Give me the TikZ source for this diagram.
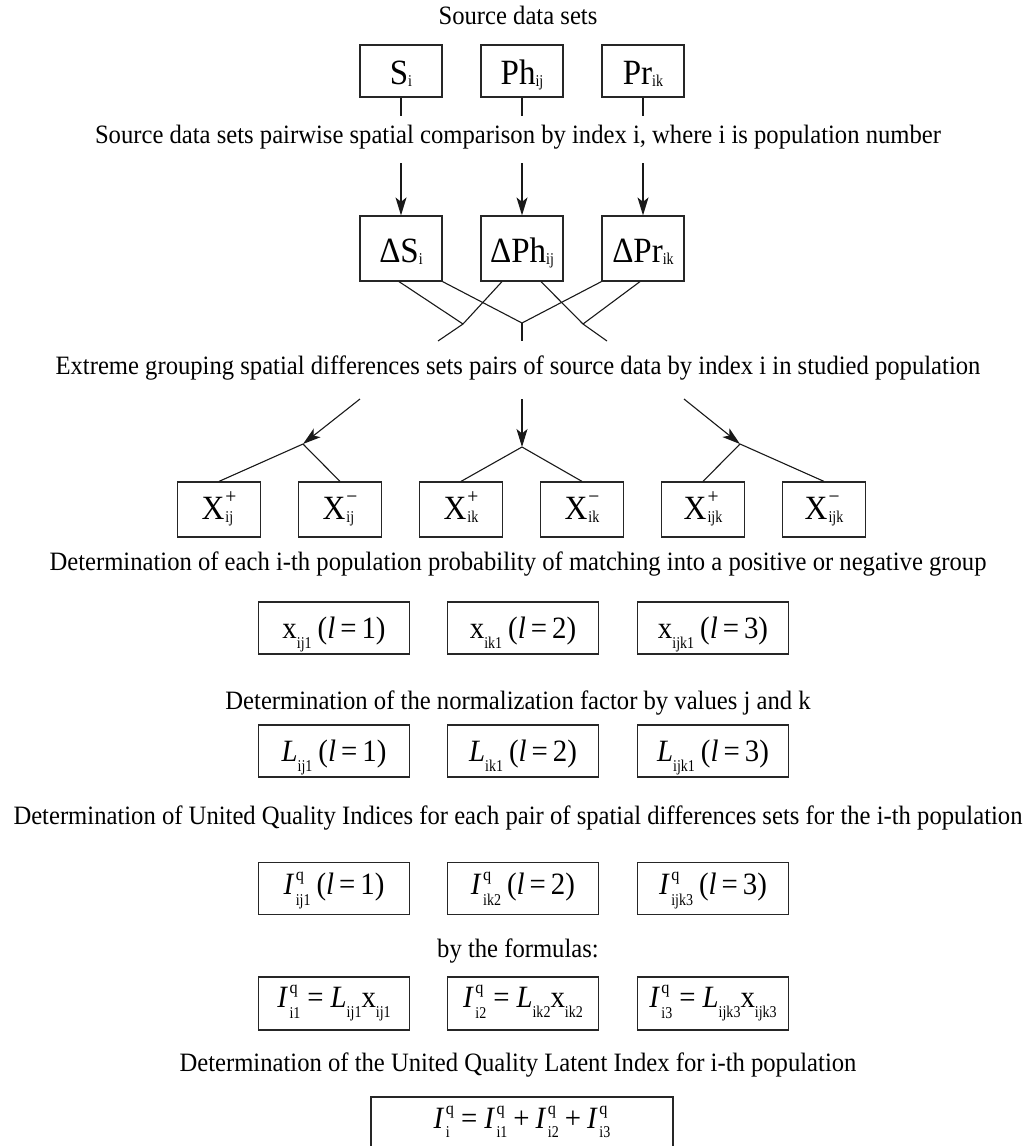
\documentclass[tikz,border=0pt]{standalone}
\usepackage{fontspec}
\setmainfont[FakeStretch=0.93]{Liberation Serif}
\newfontfamily\subfam[FakeStretch=0.85]{Liberation Serif}
\usetikzlibrary{arrows.meta,calc}
\newcommand\capsz{\fontsize{26.5}{30}\selectfont}
\newcommand\bigsz{\fontsize{35.5}{38}\selectfont}
\newcommand\xsz{\fontsize{34}{38}\selectfont}
\newcommand\midsz{\fontsize{31}{36}\selectfont}
\newcommand\subfnt{\subfam\fontsize{16.5}{17}\selectfont}
\newcommand\qfnt{\fontsize{17.5}{18}\selectfont}
\newcommand\pmfnt{\fontsize{21}{21}\selectfont}
% subscript: #1 lowering, #2 text
\newcommand\sbs[2][2pt]{\lower#1\hbox{\subfnt #2}}
% stacked sup/sub: #1 sup font, #2 raise, #3 lower, #4 sup, #5 sub
\newcommand\stk[5]{\begingroup\setbox0\hbox{#1#4}\setbox2\hbox{\subfnt #5}%
  \ifdim\wd0>\wd2 \dimen0=\wd0 \else\dimen0=\wd2 \fi
  \hbox to\dimen0{\rlap{\raise#2\box0}\lower#3\box2\hfil}\endgroup}
\newcommand\Xpm[2]{X\kern1pt\stk{\pmfnt}{16pt}{3pt}{#1}{#2}}
\newcommand\Iq[1]{\textit{I}\kern1.5pt\stk{\qfnt}{14pt}{11pt}{q}{#1}}
\newcommand\Iqf[1]{\textit{I}\kern1.5pt\stk{\qfnt}{14pt}{9pt}{q}{#1}}
\newcommand\Lsub[1]{\textit{L}\sbs[10pt]{#1}}
\newcommand\xsub[1]{x\sbs[10pt]{#1}}
\newcommand\lval[1]{\kern6pt(\textit{l}\kern5pt=\kern5pt#1)}
\newcommand\eqs{\kern7pt=\kern7pt}
\newcommand\pls{\kern6pt+\kern6pt}
\begin{document}
\begin{tikzpicture}[x=1pt,y=-1pt,
  bx/.style={draw=black!85,line width=1.2pt,inner sep=0pt,minimum height=52pt,font=\bigsz,text depth=4pt},
  captxt/.style={anchor=base,font=\capsz,inner sep=0pt},
  ln/.style={line width=1.1pt,black!90},
  arr/.style={line width=1.1pt,black!90,-{Stealth[length=18pt,width=11pt,inset=4.5pt]}}]
\useasboundingbox[fill=white] (0,0) rectangle (1036,1146);

% row 1
\node[captxt] (c1) at (518,24) {Source data sets};
\node[bx,minimum width=82pt,text height=31pt] (S) at (401,71) {S\sbs{i}};
\node[bx,minimum width=82pt,text height=31pt] (Ph) at (522,71) {Ph\sbs{ij}};
\node[bx,minimum width=82pt,text height=31pt] (Pr) at (643,71) {Pr\sbs{ik}};
\coordinate (t1) at (401,116);
\coordinate (t2) at (522,116);
\coordinate (t3) at (643,116);
\draw[ln] (S.south) -- (t1);
\draw[ln] (Ph.south) -- (t2);
\draw[ln] (Pr.south) -- (t3);

\node[captxt] (c2) at (518,143) {Source data sets pairwise spatial comparison by index i, where i is population number};

% row 2
\node[bx,minimum width=82pt,minimum height=65pt,text height=31pt] (dS) at (401,248.5) {ΔS\sbs{i}};
\node[bx,minimum width=82pt,minimum height=65pt,text height=31pt] (dPh) at (522,248.5) {ΔPh\sbs{ij}};
\node[bx,minimum width=82pt,minimum height=65pt,text height=31pt] (dPr) at (643,248.5) {ΔPr\sbs{ik}};
\coordinate (u1) at (401,163);
\coordinate (u2) at (522,163);
\coordinate (u3) at (643,163);
\draw[arr] (u1) -- (dS.north);
\draw[arr] (u2) -- (dPh.north);
\draw[arr] (u3) -- (dPr.north);

\coordinate (j1) at (463,324);
\coordinate (j2) at (522,323);
\coordinate (j3) at (583,324);
\coordinate (e1) at (438,341);
\coordinate (e2) at (522,341);
\coordinate (e3) at (607,341);
\draw[ln] ([xshift=-2pt]dS.south) -- (j1);
\draw[ln] (dS.south east) -- (j2);
\draw[ln] ([xshift=-20pt]dPh.south) -- (j1);
\draw[ln] ([xshift=19pt]dPh.south) -- (j3);
\draw[ln] (dPr.south west) -- (j2);
\draw[ln] ([xshift=-3pt]dPr.south) -- (j3);
\draw[ln] (j1) -- (e1);
\draw[ln] (j2) -- (e2);
\draw[ln] (j3) -- (e3);

\node[captxt] (c3) at (518,374) {Extreme grouping spatial differences sets pairs of source data by index i in studied population};

% row 3
\coordinate (s1) at (360,399);
\coordinate (s2) at (522,399);
\coordinate (s3) at (684,399);
\coordinate (a1) at (303,444);
\coordinate (a2) at (522,447);
\coordinate (a3) at (740,444);
\draw[arr] (s1) -- (a1);
\draw[arr] (s2) -- (a2);
\draw[arr] (s3) -- (a3);
\tikzset{xb/.style={bx,font=\xsz,minimum width=83pt,minimum height=55pt,text height=24pt}}
\node[xb] (Xp1) at (219,509.5) {\Xpm{+}{ij}};
\node[xb] (Xm1) at (340,509.5) {\Xpm{−}{ij}};
\node[xb] (Xp2) at (461,509.5) {\Xpm{+}{ik}};
\node[xb] (Xm2) at (582,509.5) {\Xpm{−}{ik}};
\node[xb] (Xp3) at (703,509.5) {\Xpm{+}{ijk}};
\node[xb] (Xm3) at (824,509.5) {\Xpm{−}{ijk}};
\draw[ln] (a1) -- (Xp1.north);
\draw[ln] (a1) -- (Xm1.north);
\draw[ln] (a2) -- (Xp2.north);
\draw[ln] (a2) -- (Xm2.north);
\draw[ln] (a3) -- (Xp3.north);
\draw[ln] (a3) -- (Xm3.north);

\node[captxt] (c4) at (518,570) {Determination of each i-th population probability of matching into a positive or negative group};

% row 4
\tikzset{wb/.style={bx,font=\midsz,minimum width=151pt,minimum height=52pt}}
\node[wb,text height=24pt] (x1) at (334,628) {\xsub{ij1}\lval{1}};
\node[wb,text height=24pt] (x2) at (523,628) {\xsub{ik1}\lval{2}};
\node[wb,text height=24pt] (x3) at (713,628) {\xsub{ijk1}\lval{3}};

\node[captxt] (c5) at (518,709) {Determination of the normalization factor by values j and k};

% row 5
\node[wb,text height=24pt] (L1) at (334,751) {\Lsub{ij1}\lval{1}};
\node[wb,text height=24pt] (L2) at (523,751) {\Lsub{ik1}\lval{2}};
\node[wb,text height=24pt] (L3) at (713,751) {\Lsub{ijk1}\lval{3}};

\node[captxt] (c6) at (518,824) {Determination of United Quality Indices for each pair of spatial differences sets for the i-th population};

% row 6
\node[wb,text height=16pt] (I1) at (334,888.5) {\Iq{ij1}\lval{1}};
\node[wb,text height=16pt] (I2) at (523,888.5) {\Iq{ik2}\lval{2}};
\node[wb,text height=16pt] (I3) at (713,888.5) {\Iq{ijk3}\lval{3}};

\node[captxt] (c7) at (518,957) {by the formulas:};

% row 7
\node[wb,text height=12pt,minimum height=53pt] (F1) at (334,1003.5) {\Iq{i1}\eqs\Lsub{ij1}\xsub{ij1}};
\node[wb,text height=12pt,minimum height=53pt] (F2) at (523,1003.5) {\Iq{i2}\eqs\Lsub{ik2}\xsub{ik2}};
\node[wb,text height=12pt,minimum height=53pt] (F3) at (713,1003.5) {\Iq{i3}\eqs\Lsub{ijk3}\xsub{ijk3}};

\node[captxt] (c8) at (518,1071) {Determination of the United Quality Latent Index for i-th population};

% final
\node[wb,text height=4pt,minimum width=302pt,minimum height=63pt] (Fin) at (522,1128.5) {\Iqf{i}\eqs\Iqf{i1}\pls\Iqf{i2}\pls\Iqf{i3}};
\end{tikzpicture}
\end{document}
